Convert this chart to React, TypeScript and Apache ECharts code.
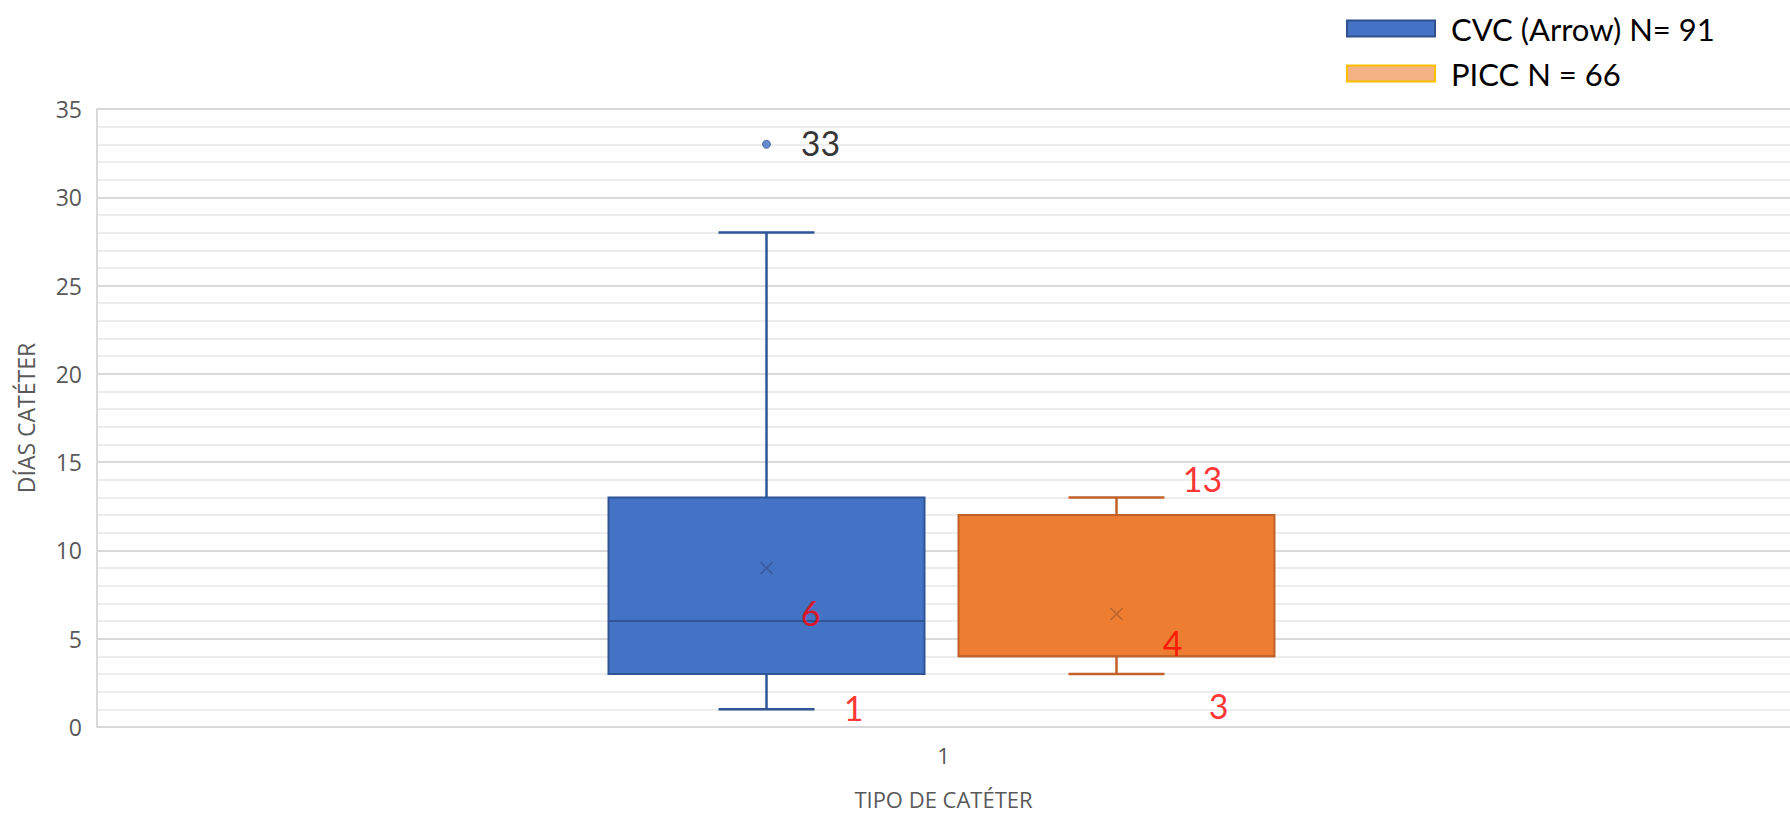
import React, { useEffect, useRef } from "react";
import * as echarts from "echarts";

// ---- data ----
const categories = ["1"];
const seriesNames = ["CVC (Arrow) N= 91", "PICC N = 66"];
// [min, Q1, median, Q3, max]
const cvcStats = [1, 3, 6, 13, 28];
const piccStats = [3, 4, 4, 12, 13];
const cvcMean = 9.0;
const piccMean = 6.4;
const cvcOutliers = [33];
// text annotations drawn beside the boxes
const cvcAnnotations = [33, 6, 1];
const piccAnnotations = [13, 4, 3];
const yTicks = { min: 0, max: 35, interval: 5 };

// ---- styles ----
const BLUE = "#4472C4";
const BLUE_DARK = "#2F5597";
const ORANGE = "#ED7D31";
const ORANGE_DARK = "#C0622A";
const CVC_OFFSET = -177;
const PICC_OFFSET = 173;
const BOX_HALF = 158;
const CAP_HALF = 48;
const AXIS_FONT = "'Open Sans', sans-serif";
const TEXT_FONT = "Lato, 'Open Sans', sans-serif";

const cvcLabelOffsets: number[][] = [
  [54, -2],
  [44, -9],
  [87, -2],
];
const piccLabelOffsets: number[][] = [
  [86, -19],
  [56, -14],
  [102, 31],
];

function makeRenderItem(offset: number, fill: string, stroke: string) {
  return (params: any, api: any) => {
    const x = api.coord([api.value(0), 0])[0] + offset;
    const yMin = api.coord([api.value(0), api.value(1)])[1];
    const yQ1 = api.coord([api.value(0), api.value(2)])[1];
    const yMed = api.coord([api.value(0), api.value(3)])[1];
    const yQ3 = api.coord([api.value(0), api.value(4)])[1];
    const yMax = api.coord([api.value(0), api.value(5)])[1];
    const ls = { stroke, lineWidth: 2.5 };
    return {
      type: "group",
      children: [
        { type: "line", shape: { x1: x, y1: yMax, x2: x, y2: yQ3 }, style: ls },
        { type: "line", shape: { x1: x - CAP_HALF, y1: yMax, x2: x + CAP_HALF, y2: yMax }, style: ls },
        { type: "line", shape: { x1: x, y1: yQ1, x2: x, y2: yMin }, style: ls },
        { type: "line", shape: { x1: x - CAP_HALF, y1: yMin, x2: x + CAP_HALF, y2: yMin }, style: ls },
        {
          type: "rect",
          shape: { x: x - BOX_HALF, y: yQ3, width: BOX_HALF * 2, height: yQ1 - yQ3 },
          style: { fill, stroke, lineWidth: 2 },
        },
        { type: "line", shape: { x1: x - BOX_HALF, y1: yMed, x2: x + BOX_HALF, y2: yMed }, style: { stroke, lineWidth: 2 } },
      ],
    };
  };
}

function annotationSeries(values: number[], offsets: number[][], boxOffset: number, color: string) {
  return {
    type: "scatter",
    symbolSize: 1,
    itemStyle: { color: "transparent" },
    z: 10,
    silent: true,
    data: values.map((v, i) => ({
      value: [0, v],
      label: { offset: [boxOffset + offsets[i][0], offsets[i][1]] },
    })),
    label: {
      show: true,
      position: "inside",
      formatter: (p: any) => String(p.value[1]),
      color,
      fontSize: 34,
      fontFamily: TEXT_FONT,
    },
  };
}

export default function App() {
  const ref = useRef<HTMLDivElement>(null);
  useEffect(() => {
    if (!ref.current) return;
    const chart = echarts.init(ref.current, undefined, { renderer: "svg" });
    const option: any = {
      animation: false,
      backgroundColor: "#ffffff",
      legend: {
        orient: "vertical",
        left: 1341,
        top: 8,
        itemWidth: 88,
        itemHeight: 16,
        itemGap: 14,
        icon: "rect",
        selectedMode: false,
        textStyle: { fontSize: 31, color: "#000", fontFamily: TEXT_FONT, padding: [0, 0, 0, 11] },
        data: [
          { name: seriesNames[0], itemStyle: { color: BLUE, borderColor: "#2F528F", borderWidth: 2 } },
          { name: seriesNames[1], itemStyle: { color: "#F4B183", borderColor: "#FFC000", borderWidth: 2 } },
        ],
      },
      grid: { left: 97, right: 0, top: 109, bottom: 87, containLabel: false, outerBoundsMode: "none" },
      xAxis: {
        type: "category",
        data: categories,
        axisLine: { show: true, lineStyle: { color: "#d9d9d9", width: 2 } },
        axisTick: { show: false },
        axisLabel: { fontSize: 22, color: "#595959", fontFamily: AXIS_FONT, margin: 17 },
        splitLine: { show: false },
        name: "TIPO DE CATÉTER",
        nameLocation: "middle",
        nameGap: 60,
        nameTextStyle: { fontSize: 22, lineHeight: 24, color: "#595959", fontFamily: AXIS_FONT },
      },
      yAxis: {
        type: "value",
        min: yTicks.min,
        max: yTicks.max,
        interval: yTicks.interval,
        axisLine: { show: true, lineStyle: { color: "#d9d9d9", width: 2 } },
        axisTick: { show: false },
        axisLabel: { fontSize: 23, color: "#595959", fontFamily: AXIS_FONT, margin: 15 },
        splitLine: { show: true, lineStyle: { color: "#d9d9d9", width: 2 } },
        minorTick: { show: false, splitNumber: 5 },
        minorSplitLine: { show: true, lineStyle: { color: "#ededed", width: 2 } },
        name: "DÍAS CATÉTER",
        nameLocation: "middle",
        nameRotate: 90,
        nameGap: 60,
        nameTextStyle: { fontSize: 23, color: "#595959", fontFamily: AXIS_FONT },
      },
      series: [
        {
          name: seriesNames[0],
          type: "custom",
          itemStyle: { color: BLUE },
          renderItem: makeRenderItem(CVC_OFFSET, BLUE, BLUE_DARK),
          encode: { x: 0, y: [1, 2, 3, 4, 5] },
          data: [[0, ...cvcStats]],
        },
        {
          name: seriesNames[1],
          type: "custom",
          itemStyle: { color: ORANGE },
          renderItem: makeRenderItem(PICC_OFFSET, ORANGE, ORANGE_DARK),
          encode: { x: 0, y: [1, 2, 3, 4, 5] },
          data: [[0, ...piccStats]],
        },
        {
          type: "scatter",
          symbol: "path://M0,0L10,10M10,0L0,10",
          symbolSize: 12,
          symbolOffset: [CVC_OFFSET, 0],
          itemStyle: { color: "transparent", borderColor: "rgba(40,60,110,0.55)", borderWidth: 1.5 },
          z: 5,
          data: [[0, cvcMean]],
        },
        {
          type: "scatter",
          symbol: "path://M0,0L10,10M10,0L0,10",
          symbolSize: 12,
          symbolOffset: [PICC_OFFSET, 0],
          itemStyle: { color: "transparent", borderColor: "rgba(120,70,40,0.55)", borderWidth: 1.5 },
          z: 5,
          data: [[0, piccMean]],
        },
        {
          type: "scatter",
          symbol: "circle",
          symbolSize: 8,
          symbolOffset: [CVC_OFFSET, 0],
          itemStyle: { color: BLUE, borderColor: BLUE_DARK, borderWidth: 1 },
          z: 5,
          data: cvcOutliers.map((v) => [0, v]),
        },
        annotationSeries(cvcAnnotations.slice(0, 1), cvcLabelOffsets.slice(0, 1), CVC_OFFSET, "#000000"),
        annotationSeries(cvcAnnotations.slice(1), cvcLabelOffsets.slice(1), CVC_OFFSET, "#FF0000"),
        annotationSeries(piccAnnotations, piccLabelOffsets, PICC_OFFSET, "#FF0000"),
      ],
    };
    chart.setOption(option);
    return () => chart.dispose();
  }, []);
  return (
    <div
      ref={ref}
      style={{ position: "fixed", left: 0, top: 0, width: 1790, height: 814, background: "#fff" }}
    />
  );
}
